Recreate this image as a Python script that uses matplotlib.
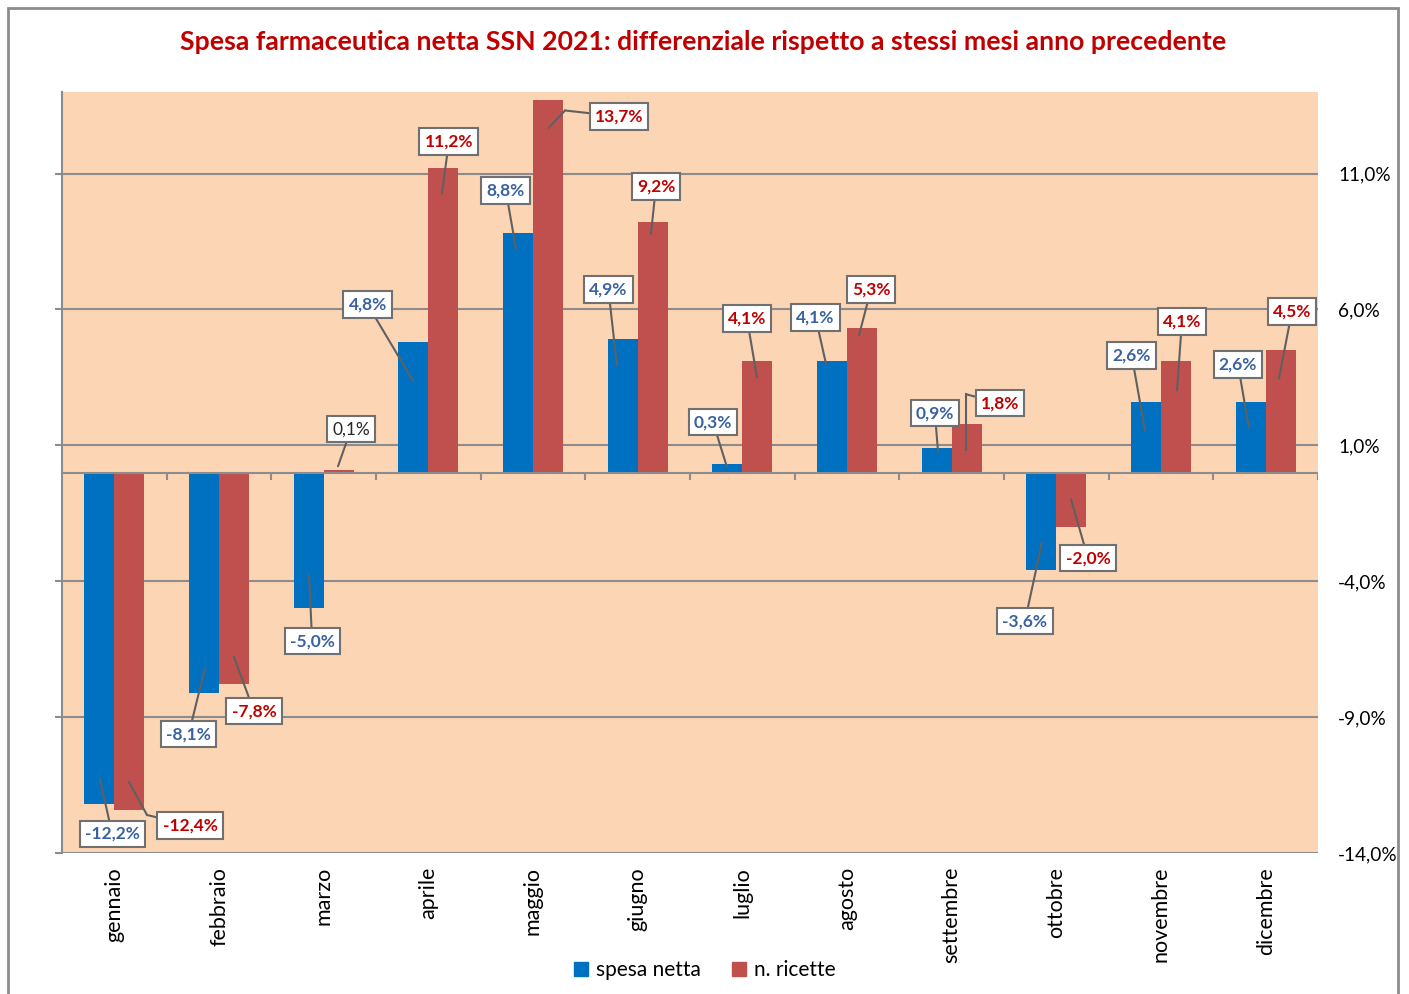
import matplotlib
matplotlib.use("Agg")
import matplotlib.pyplot as plt
from matplotlib.patches import Rectangle, Patch

plt.rcParams['font.family'] = ['Lato', 'DejaVu Sans']

months = ['gennaio', 'febbraio', 'marzo', 'aprile', 'maggio', 'giugno',
          'luglio', 'agosto', 'settembre', 'ottobre', 'novembre', 'dicembre']
spesa = [-12.2, -8.1, -5.0, 4.8, 8.8, 4.9, 0.3, 4.1, 0.9, -3.6, 2.6, 2.6]
ricette = [-12.4, -7.8, 0.1, 11.2, 13.7, 9.2, 4.1, 5.3, 1.8, -2.0, 4.1, 4.5]
yticks = [-14, -9, -4, 1, 6, 11]

# label placement (dx from category centre, y in %), leader anchors, elbows
spesa_lab = [(-0.02, -13.3), (-0.29, -9.63), (-0.11, -6.21), (-0.58, 6.18),
             (-0.26, 10.38), (-0.28, 6.74), (-0.28, 1.85), (-0.30, 5.71),
             (-0.16, 2.18), (-0.30, -5.47), (-0.28, 4.31), (-0.265, 3.98)]
spesa_anc = [(-0.137, -11.3), (-0.134, -7.2), (-0.14, -3.78), (-0.147, 3.38),
             (-0.163, 8.24), (-0.198, 3.94), (-0.147, 0.2), (-0.201, 4.0),
             (-0.131, 0.8), (-0.137, -2.57), (-0.153, 1.55), (-0.16, 1.65)]
ric_lab = [(0.723, -12.99), (0.334, -8.78), (0.261, 1.59), (0.197, 12.18),
           (0.822, 13.10), (0.175, 10.52), (0.044, 5.67), (0.229, 6.74),
           (0.462, 2.55), (0.302, -3.15), (0.20, 5.56), (0.251, 5.93)]
ric_anc = [(0.14, -11.39), (0.143, -6.79), (0.137, 0.23), (0.13, 10.27),
           (0.153, 12.69), (0.127, 8.79), (0.14, 3.50), (0.115, 5.05),
           (0.137, 0.82), (0.14, -0.98), (0.153, 3.02), (0.127, 3.46)]
ric_elbow = {0: (0.312, -12.6), 4: (0.306, 13.32), 8: (0.137, 2.88)}

BLUE = '#0070C0'
RED = '#C0504D'
BG = '#FCD5B4'
GRID = '#8C8C8C'
TBLUE = '#3A62A0'
TRED = '#C00000'

fig = plt.figure(figsize=(14.09, 9.94), dpi=100)
ax = fig.add_axes([62/1409, 1-853/994, (1318-62)/1409, (853-92)/994])
ax.set_facecolor(BG)

w = 0.2866
x = list(range(len(months)))
ax.bar([i - w/2 for i in x], spesa, width=w, color=BLUE, zorder=3)
ax.bar([i + w/2 for i in x], ricette, width=w, color=RED, zorder=3)

ax.set_xlim(-0.5, 11.5)
ax.set_ylim(-14, 14)
ax.set_yticks(yticks)
ax.set_yticklabels([f"{v:.1f}%".replace('.', ',') for v in yticks], fontsize=13.7)
ax.yaxis.grid(True, color=GRID, lw=1.5, zorder=1)
ax.tick_params(axis='y', left=True, right=False, labelleft=False, labelright=True,
               length=5, width=1.5, color=GRID, pad=9.5)
ax.set_xticks(x)
ax.set_xticklabels(months, rotation=90, fontsize=15.5)
ax.tick_params(axis='x', length=0, pad=10)
for s in ['top', 'right', 'bottom']:
    ax.spines[s].set_visible(False)
ax.spines['left'].set_color(GRID)
ax.spines['left'].set_linewidth(1.5)

# zero axis with category boundary ticks
ax.axhline(0, color=GRID, lw=1.5, zorder=4)
ax.vlines([i + 0.5 for i in x], -0.26, 0, color=GRID, lw=1.5, zorder=4)

def label(i, val, lab, anc, color, bold=True, elbow=None):
    txt = f"{val:.1f}%".replace('.', ',')
    tx, ty = i + lab[0], lab[1]
    ax_, ay_ = i + anc[0], anc[1]
    if elbow is not None:
        ex, ey = i + elbow[0], elbow[1]
        ax.plot([ax_, ex], [ay_, ey], color='#606060', lw=1.5, zorder=5)
        ax_, ay_ = ex, ey
    ax.annotate(txt, xy=(ax_, ay_), xytext=(tx, ty), ha='center', va='center',
                fontsize=12.5, fontweight='bold' if bold else 'normal', color=color,
                bbox=dict(boxstyle='square,pad=0.3', fc='white', ec='#707070', lw=1.5),
                arrowprops=dict(arrowstyle='-', color='#606060', lw=1.5,
                                shrinkA=0, shrinkB=0),
                zorder=6)

for i in x:
    label(i, spesa[i], spesa_lab[i], spesa_anc[i], TBLUE)
    if 0 < ricette[i] < 1:
        label(i, ricette[i], ric_lab[i], ric_anc[i], '#262626', bold=False)
    else:
        label(i, ricette[i], ric_lab[i], ric_anc[i], TRED, elbow=ric_elbow.get(i))

fig.text(703/1409, 1-42/994, 'Spesa farmaceutica netta SSN 2021: differenziale rispetto a stessi mesi anno precedente',
         ha='center', va='center', fontsize=19.2, fontweight='bold', color=TRED)

handles = [Patch(color=BLUE, label='spesa netta'), Patch(color=RED, label='n. ricette')]
fig.legend(handles=handles, loc='center', bbox_to_anchor=(705/1409, 1-970/994),
           ncol=2, frameon=False, fontsize=15, handlelength=0.65, handleheight=0.65,
           handletextpad=0.4, columnspacing=1.5)

fig.add_artist(Rectangle((8/1409, -0.02), 1390/1409, 1.02-8/994, transform=fig.transFigure,
                         fill=False, edgecolor='#8C8C8C', lw=2))

fig.savefig('out.png', dpi=100)
